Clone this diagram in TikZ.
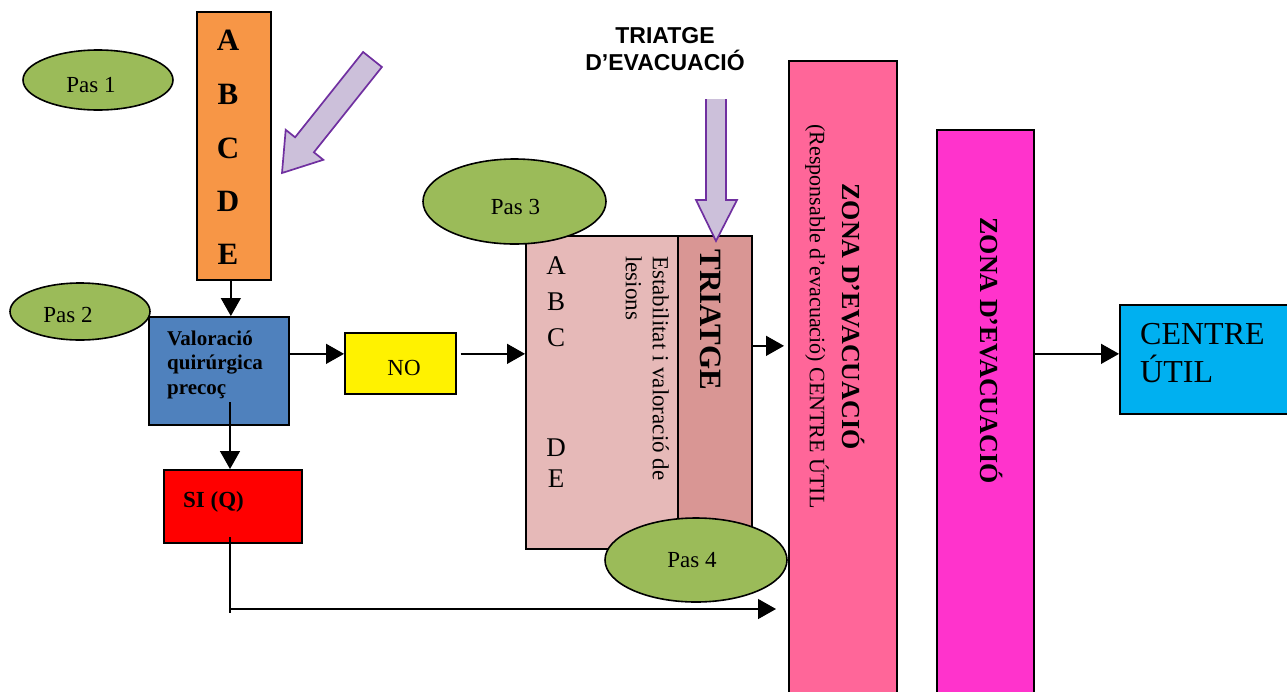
\documentclass[tikz,border=0pt]{standalone}
\usepackage{fontspec}
\setmainfont{Liberation Serif}
\newfontfamily\arialf{Liberation Sans}
\usetikzlibrary{arrows.meta,shapes.geometric}
\definecolor{orangeF}{HTML}{F79646}
\definecolor{pasG}{HTML}{9BBB59}
\definecolor{lilac}{HTML}{CCC0DA}
\definecolor{purpleE}{HTML}{7030A0}
\definecolor{blueF}{HTML}{4F81BD}
\definecolor{pinkL}{HTML}{E6B9B8}
\definecolor{pinkD}{HTML}{D99694}
\definecolor{zonaA}{HTML}{FF6699}
\definecolor{zonaB}{HTML}{FF33CC}
\definecolor{cyanF}{HTML}{00B0F0}
\newcommand{\fsz}[2]{\fontsize{#1}{#2}\selectfont}
\tikzset{
  box/.style={draw=black, line width=1.7pt, inner sep=0pt, anchor=north west},
  pas/.style={ellipse, draw=black, line width=1.6pt, fill=pasG, inner sep=0pt},
  conn/.style={line width=1.4pt, -{Triangle[length=18pt,width=20pt]}},
  txt/.style={inner sep=0pt},
  bigarrow/.style={fill=lilac, draw=purpleE, line width=1.7pt, line join=miter},
}
\begin{document}
\begin{tikzpicture}[x=1pt,y=-1pt]
\useasboundingbox (0,0) rectangle (1287,691);
% step 1 box
\node[box, fill=orangeF, minimum width=74pt, minimum height=268pt] (abcde) at (196,11) {};
\foreach \L/\yy in {A/40,B/94,C/148,D/201,E/254}
  \node[txt, font=\fsz{31}{36}\bfseries] (abc\L) at (228,\yy) {\L};
% diagonal block arrow
\draw[bigarrow] (363.1,52) -- (381.9,67) -- (313.9,152.3) -- (323.3,159.8) -- (282,173)
  -- (285.7,129.8) -- (295.1,137.3) -- cycle;
% Pas 1
\node[pas, minimum width=150pt, minimum height=60pt] (pas1) at (98,80) {};
\node[txt, font=\fsz{23}{27}] (pas1t) at (91,85) {Pas 1};
% valoracio
\node[box, fill=blueF, minimum width=140pt, minimum height=108pt] (valor) at (148,316) {};
\node[txt, anchor=west, align=left, font=\fsz{21}{24.5}\bfseries] (valtxt) at (167,364.5) {Valoració\\quirúrgica\\precoç};
% Pas 2
\node[pas, minimum width=140pt, minimum height=57pt] (pas2) at (80,311.5) {};
\node[txt, font=\fsz{23}{27}] (pas2t) at (68,315) {Pas 2};
% NO
\node[box, fill=yellow, minimum width=111pt, minimum height=61pt] (no) at (344,332) {};
\node[txt, font=\fsz{23}{27}] (notxt) at (404,368) {NO};
% SI
\node[box, fill=red, minimum width=138pt, minimum height=73pt] (si) at (163,469) {};
\node[txt, anchor=base west, font=\fsz{23}{27}\bfseries] (sitxt) at (183,507) {SI (Q)};
% step 3 box
\node[box, fill=pinkL, minimum width=226pt, minimum height=313pt] (abc2) at (525,235) {};
\node[box, fill=pinkD, minimum width=74pt, minimum height=313pt] (triatge) at (677,235) {};
\foreach \L/\yy in {A/266,B/302,C/338,D/448,E/479}
  \node[txt, font=\fsz{27}{32}] (abd\L) at (556,\yy) {\L};
\node[txt, rotate=-90, anchor=north west, align=left, font=\fsz{23}{27}] (estab) at (669,256) {Estabilitat i valoració de\\lesions};
\node[txt, rotate=-90, font=\fsz{31}{36}\bfseries] (triatgetxt) at (711,320) {TRIATGE};
% Pas 3, Pas 4
\node[pas, minimum width=183pt, minimum height=85pt] (pas3) at (514.5,201.5) {};
\node[txt, font=\fsz{23}{27}] (pas3t) at (515.5,207) {Pas 3};
\node[pas, minimum width=182pt, minimum height=84pt] (pas4) at (696,560) {};
\node[txt, font=\fsz{23}{27}] (pas4t) at (692,560.5) {Pas 4};
% triatge d'evacuacio
\node[txt, anchor=base, font=\arialf\fsz{23}{27}\bfseries] (te1) at (665,43) {TRIATGE};
\node[txt, anchor=base, font=\arialf\fsz{23}{27}\bfseries] (te2) at (665,70) {D’EVACUACIÓ};
\fill[lilac] (706,99) -- (726,99) -- (726,200) -- (737,200) -- (716,241) -- (696,200) -- (706,200) -- cycle;
\draw[draw=purpleE, line width=1.7pt, line join=miter] (726,99) -- (726,200) -- (737,200) -- (716,241) -- (696,200) -- (706,200) -- (706,99);
% zones
\node[box, fill=zonaA, minimum width=108pt, minimum height=640pt] (zona1) at (788,60) {};
\node[txt, rotate=-90, font=\fsz{26}{30}\bfseries] (z1a) at (853,316.5) {ZONA D’EVACUACIÓ};
\node[txt, rotate=-90, font=\fsz{22}{26}] (z1b) at (817,316.5) {(Responsable d’evacuació) CENTRE ÚTIL};
\node[box, fill=zonaB, minimum width=97pt, minimum height=570pt] (zona2) at (936,129) {};
\node[txt, rotate=-90, font=\fsz{26}{30}\bfseries] (z2a) at (991,350.5) {ZONA D’EVACUACIÓ};
% centre util
\node[box, fill=cyanF, minimum width=175pt, minimum height=109pt] (centre) at (1119,304) {};
\node[txt, anchor=base west, font=\fsz{32}{38}] (c1) at (1140,344) {CENTRE};
\node[txt, anchor=base west, font=\fsz{32}{38}] (c2) at (1140,382) {ÚTIL};
% connectors
\draw[conn] ([xshift=-3pt]abcde.south) -- ([xshift=-3pt]abcde.south |- valor.north);
\draw[conn] ([yshift=17pt]valor.east) -- ([yshift=17pt]valor.east -| no.west);
\draw[conn] ([xshift=4pt,yshift=9.5pt]no.east) -- ([yshift=9.5pt]no.east -| abc2.west);
\coordinate (vstart) at (230,402);
\draw[conn] (vstart) -- (vstart |- si.north);
\coordinate (sstart) at (230,537);
\coordinate (send) at (776,609);
\draw[line width=1.4pt] (sstart) -- (230,613);
\draw[conn] (sstart |- send) -- (send);
\draw[conn] ([yshift=46.5pt]triatge.east) -- ([xshift=-4pt,yshift=46.5pt]triatge.east -| zona1.west);
\draw[conn] ([yshift=5.5pt]centre.west -| zona2.east) -- ([yshift=5.5pt]centre.west);
\end{tikzpicture}
\end{document}
